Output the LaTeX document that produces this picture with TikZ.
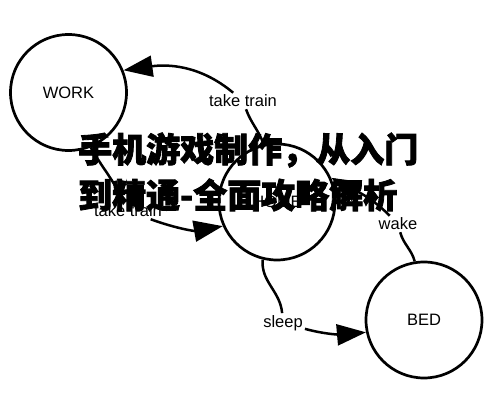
\documentclass[tikz,border=0pt]{standalone}
\usepackage{fontspec}
\setmainfont{Liberation Sans}
\newfontfamily\cjk{Noto Sans CJK SC}[BoldFeatures={FakeBold=2.5}]
\usetikzlibrary{arrows.meta}

\begin{document}
\begin{tikzpicture}[x=1pt,y=1pt,
  state/.style={draw=black,line width=2.7pt,circle,minimum size=116pt,inner sep=0pt,font=\fontsize{16.5}{18}\selectfont},
  lbl/.style={inner sep=2pt,font=\fontsize{16.5}{18}\selectfont},
  ln/.style={line width=2.5pt},
  arr/.style={line width=2.5pt,-{Triangle[length=29pt,width=21pt]}},
  title/.style={anchor=west,inner sep=0pt,font=\cjk\bfseries\fontsize{34}{36}\selectfont}]
\useasboundingbox (0,0) rectangle (499,404);
\node[state] (W) at (68.5,311.5) {WORK};
\node[state] (H) at (277,202) {HOME};
\node[state] (B) at (424,84) {BED};
\node[lbl] (T1) at (243,303) {take train};
\node[lbl] (T2) at (128,193) {take train};
\node[lbl] (K) at (398,180) {wake};
\node[lbl] (S) at (283,81) {sleep};

\draw[ln] (H.103) to[out=110,in=-70] (T1);
\draw[arr] (T1) to[out=140,in=8] (W.22);
\draw[ln] (W.-68) to[out=-60,in=115] (T2);
\draw[arr] (T2) to[out=-20,in=190] (H.204);
\draw[ln] (B.99) to[out=105,in=-75] (K);
\draw[arr] (K) to[out=135,in=-28] (H.24);
\draw[ln] (H.-104) to[out=-95,in=95] (S);
\draw[arr] (S) to[out=-15,in=185] (B.192);

\node[title] (L1) at (78,254) {手机游戏制作，从入门};
\node[title] (L2) at (78,209) {到精通-全面攻略解析};
\end{tikzpicture}
\end{document}
